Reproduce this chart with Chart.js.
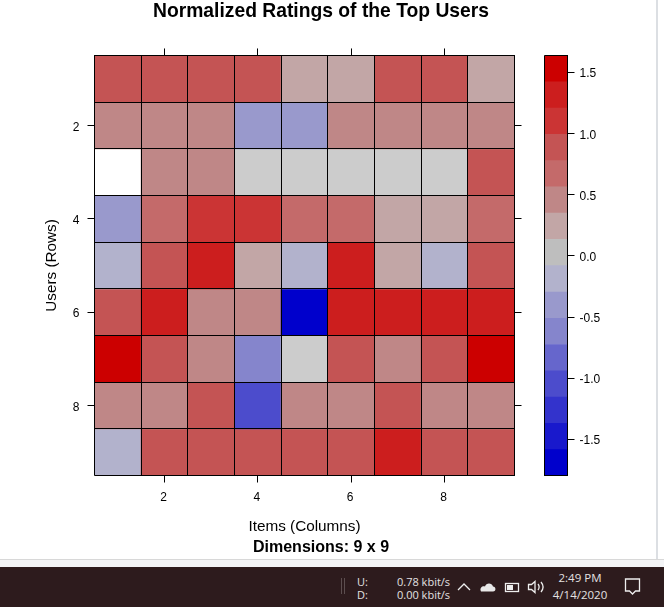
<!DOCTYPE html>
<html>
<head>
<meta charset="utf-8">
<script src="https://cdn.jsdelivr.net/npm/chart.js@4"></script>
<style>
  html, body { margin: 0; padding: 0; width: 664px; height: 607px; overflow: hidden; background: #fff; }
  canvas { position: absolute; top: 0; }
  #edgeRight { position: absolute; left: 656px; top: 0; width: 2px; height: 559px; background: #dcdfe3; }
  #edgeBottom { position: absolute; left: 0; top: 559px; width: 664px; height: 8px; background: #f3f4f6; border-top: 1px solid #d8d8d8; box-sizing: border-box; }
  #taskbar { position: absolute; left: 0; top: 567px; width: 664px; height: 40px; background: #2d1b1d; color: #e4e2e2; font: 11px "Open Sans", sans-serif; }
  #taskbar span { position: absolute; line-height: 14px; white-space: nowrap; }
  #taskbar i { position: absolute; top: 11px; width: 1px; height: 16px; background: #5c4e4f; }
  #taskbar svg { position: absolute; top: 0; left: 0; }
</style>
</head>
<body>
<canvas id="heat" width="642" height="559" style="left:0"></canvas>
<canvas id="key" width="80" height="559" style="left:530px"></canvas>
<div id="edgeRight"></div>
<div id="edgeBottom"></div>
<div id="taskbar">
  <i style="left:341px"></i><i style="left:344px"></i>
  <span style="left:357px;top:8px">U:</span>
  <span style="left:357px;top:21px">D:</span>
  <span style="left:397px;top:8px">0.78 kbit/s</span>
  <span style="left:397px;top:21px">0.00 kbit/s</span>
  <span style="left:558px;top:4px;width:44px;text-align:center;font-size:11.5px">2:49 PM</span>
  <span style="left:552px;top:21px;width:56px;text-align:center;font-size:11.5px">4/14/2020</span>
  <svg width="664" height="40" fill="none" stroke="#eee" stroke-width="1.3">
    <path d="M458 23l6-6 6 6"/>
    <path d="M481 24.5c-2-4 2-6 4-5 1-4 7-4 8 0 3 0 3.500 5 0 5z" fill="#e8e8e8" stroke="none"/>
    <rect x="505.500" y="16.500" width="13" height="8"/><rect x="507" y="18" width="6" height="5" fill="#eee" stroke="none"/>
    <path d="M528.500 17.500h3l3.500-3v11l-3.500-3h-3z M538 17c1.500 2 1.500 4 0 6 M541 15c2.500 3 2.500 7 0 10"/>
    <path d="M625.500 12h14v12h-4l-3 3-3-3h-4z"/>
  </svg>
</div>
<script>
// ratings per user, null = not rated
const row1 = [0.89, 0.89, 0.89, 0.89, 0.24, 0.24, 0.89, 0.89, 0.24];
const row2 = [0.46, 0.46, 0.46, -0.40, -0.40, 0.46, 0.46, 0.46, 0.46];
const row3 = [null, 0.46, 0.46, 0, 0, 0, 0, 0, 0.89];
const row4 = [-0.40, 0.67, 1.10, 1.10, 0.67, 0.67, 0.24, 0.24, 0.67];
const row5 = [-0.19, 0.89, 1.32, 0.24, -0.19, 1.32, 0.24, -0.19, 0.89];
const row6 = [0.89, 1.32, 0.46, 0.46, -1.70, 1.32, 1.32, 1.32, 1.32];
const row7 = [1.53, 0.89, 0.46, -0.62, 0, 0.89, 0.46, 0.89, 1.53];
const row8 = [0.46, 0.46, 0.89, -1.05, 0.46, 0.46, 0.89, 0.46, 0.46];
const row9 = [-0.19, 0.89, 0.89, 0.89, 0.89, 0.89, 1.32, 0.89, 0.89];
const rows = [row1, row2, row3, row4, row5, row6, row7, row8, row9];

const cellEdges = [0.5, 1.5, 2.5, 3.5, 4.5, 5.5, 6.5, 7.5, 8.5, 9.5];
const axisTicks = [2, 4, 6, 8];

const binEdges = [-1.797, -1.585, -1.37, -1.155, -0.94, -0.725, -0.51, -0.295, -0.08, 0.135, 0.35, 0.565, 0.78, 0.995, 1.21, 1.425, 1.64];
const binColors = ['#0000cc', '#1919cc', '#3333cc', '#4c4ccc', '#6666cc', '#8585cc', '#9999cc', '#b2b2cc',
  '#bebebe', '#c2a6a6', '#bf8787', '#c46a6a', '#c45454', '#cb3434', '#cc1e1e', '#cc0000'];
const keyTicks = [-1.5, -1.0, -0.5, 0, 0.5, 1.0, 1.5];

const fontName = '"Liberation Sans", Arial, sans-serif';

function cellColor(v) {
  if (v === null) return '#ffffff';
  if (v === 0) return '#cccccc';
  let i = binEdges.findIndex((e, k) => v >= e && v < binEdges[k + 1]);
  return binColors[i];
}

// edges get the black grid line, the even numbers get the outer tick mark
function axisOpts(position, withLabels, size, labelShift) {
  return {
    type: 'linear',
    position: position,
    min: 0.5,
    max: 9.5,
    offset: false,
    afterBuildTicks: s => { s.ticks = cellEdges.concat(axisTicks).sort((a, b) => a - b).map(v => ({ value: v })); },
    afterFit: s => { if (s.isHorizontal()) s.height = size; else s.width = size; },
    border: { display: false },
    grid: {
      offset: false,
      z: 1,
      tickLength: 7,
      color: c => cellEdges.includes(c.tick.value) ? '#000' : 'rgba(0,0,0,0)',
      tickColor: c => cellEdges.includes(c.tick.value) ? 'rgba(0,0,0,0)' : '#000'
    },
    ticks: {
      autoSkip: false,
      maxRotation: 0,
      padding: 8,
      labelOffset: labelShift,
      color: '#000',
      font: { family: fontName, size: 12 },
      callback: v => (withLabels && axisTicks.includes(v)) ? String(v) : ''
    }
  };
}

const xBottom = axisOpts('bottom', true, 60.5, -1);
xBottom.title = { display: true, text: 'Items (Columns)', color: '#000', font: { family: fontName, size: 15.3 }, padding: { top: 0, bottom: 0 } };
const yLeft = axisOpts('left', true, 94.5, 2);
yLeft.reverse = true;
yLeft.title = { display: true, text: 'Users (Rows)', color: '#000', font: { family: fontName, size: 15.3 }, padding: { top: 43, bottom: 0 } };
const yRight = axisOpts('right', false, 127.5, 0);
yRight.reverse = true;

new Chart(document.getElementById('heat'), {
  type: 'bar',
  data: {
    datasets: rows.map((vals, r) => ({
      data: vals.map((v, c) => ({ x: c + 1, y: [r + 0.5, r + 1.5] })),
      backgroundColor: vals.map(cellColor),
      borderWidth: 0,
      grouped: false,
      barThickness: 420 / 9 + 0.2
    }))
  },
  options: {
    responsive: false,
    animation: false,
    scales: {
      x: xBottom,
      xTop: axisOpts('top', false, 7, 0),
      y: yLeft,
      yRight: yRight
    },
    plugins: {
      legend: { display: false },
      tooltip: { enabled: false },
      title: {
        display: true,
        text: 'Normalized Ratings of the Top Users',
        color: '#000',
        font: { family: fontName, size: 19.3, weight: 'bold' },
        padding: { top: 0, bottom: 25.3 }
      },
      subtitle: {
        display: true,
        position: 'bottom',
        text: 'Dimensions: 9 x 9',
        color: '#000',
        font: { family: fontName, size: 16, weight: 'bold' },
        padding: { top: 1.5, bottom: 2.3 }
      }
    }
  }
});

// colour key
const keyMin = binEdges[0];
const keyMax = binEdges[binEdges.length - 1];

new Chart(document.getElementById('key'), {
  type: 'bar',
  data: {
    labels: [''],
    datasets: binColors.map((col, i) => ({
      data: [[binEdges[i], binEdges[i + 1]]],
      backgroundColor: col,
      borderWidth: 0,
      grouped: false,
      barPercentage: 1,
      categoryPercentage: 1
    }))
  },
  options: {
    responsive: false,
    animation: false,
    layout: { padding: { left: 14.5, top: 55.5, bottom: 83.5, right: 0 } },
    scales: {
      x: {
        afterFit: s => { s.height = 0; },
        border: { display: false },
        ticks: { display: false },
        grid: { z: 1, color: '#000', drawTicks: false }
      },
      y: {
        position: 'right',
        min: keyMin,
        max: keyMax,
        afterBuildTicks: s => { s.ticks = [keyMin].concat(keyTicks, [keyMax]).map(v => ({ value: v })); },
        afterFit: s => { s.width = 42.5; },
        border: { display: false },
        grid: {
          z: 1,
          tickLength: 7,
          color: c => keyTicks.includes(c.tick.value) ? 'rgba(0,0,0,0)' : '#000',
          tickColor: c => keyTicks.includes(c.tick.value) ? '#000' : 'rgba(0,0,0,0)'
        },
        ticks: {
          autoSkip: false,
          padding: 5,
          labelOffset: 1.5,
          color: '#000',
          font: { family: fontName, size: 12 },
          callback: v => keyTicks.includes(v) ? v.toFixed(1) : ''
        }
      }
    },
    plugins: { legend: { display: false }, tooltip: { enabled: false } }
  }
});
</script>
</body>
</html>
